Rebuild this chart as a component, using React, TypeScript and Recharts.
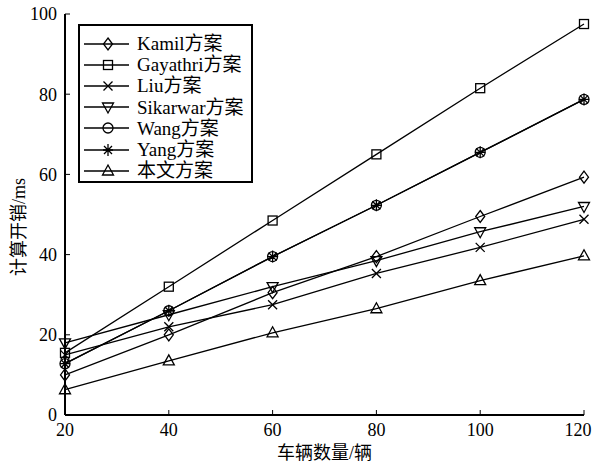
import React from "react";
import { Line, LineChart, XAxis, YAxis } from "recharts";

const vehicles = [20, 40, 60, 80, 100, 120];
const kamil = [10, 20, 30.5, 39.5, 49.5, 59.3];
const gayathri = [15.5, 32, 48.5, 65, 81.5, 97.5];
const liu = [15, 22, 27.5, 35.3, 41.8, 48.8];
const sikarwar = [18, 25, 32, 38.5, 45.7, 52];
const wang = [12.8, 26, 39.5, 52.3, 65.5, 78.7];
const yang = [12.8, 26, 39.5, 52.3, 65.5, 78.7];
const ours = [6.3, 13.5, 20.5, 26.5, 33.5, 39.7];

const xTicks = [20, 40, 60, 80, 100, 120];
const yTicks = [0, 20, 40, 60, 80, 100];

const FONT = "'Liberation Serif', 'Noto Sans CJK SC', serif";

type Shape = "diamond" | "square" | "x" | "tridown" | "circle" | "star" | "triup";

const series: { key: string; name: string; shape: Shape; values: number[] }[] = [
  { key: "kamil", name: "Kamil方案", shape: "diamond", values: kamil },
  { key: "gayathri", name: "Gayathri方案", shape: "square", values: gayathri },
  { key: "liu", name: "Liu方案", shape: "x", values: liu },
  { key: "sikarwar", name: "Sikarwar方案", shape: "tridown", values: sikarwar },
  { key: "wang", name: "Wang方案", shape: "circle", values: wang },
  { key: "yang", name: "Yang方案", shape: "star", values: yang },
  { key: "ours", name: "本文方案", shape: "triup", values: ours },
];

const data = vehicles.map((v, i) => {
  const row: Record<string, number> = { n: v };
  series.forEach((s) => {
    row[s.key] = s.values[i];
  });
  return row;
});

function Marker({ shape, cx, cy }: { shape: Shape; cx: number; cy: number }) {
  const p = { fill: "none", stroke: "#000", strokeWidth: 1.3 };
  switch (shape) {
    case "diamond":
      return <path d={`M${cx},${cy - 6}L${cx + 4.5},${cy}L${cx},${cy + 6}L${cx - 4.5},${cy}Z`} {...p} />;
    case "square":
      return <rect x={cx - 4.5} y={cy - 4.5} width={9} height={9} {...p} />;
    case "x":
      return <path d={`M${cx - 4.5},${cy - 4.5}L${cx + 4.5},${cy + 4.5}M${cx - 4.5},${cy + 4.5}L${cx + 4.5},${cy - 4.5}`} {...p} />;
    case "tridown":
      return <path d={`M${cx - 5.5},${cy - 4}L${cx + 5.5},${cy - 4}L${cx},${cy + 6}Z`} {...p} />;
    case "circle":
      return <circle cx={cx} cy={cy} r={5} {...p} />;
    case "star":
      return (
        <path
          d={`M${cx},${cy - 6}L${cx},${cy + 6}M${cx - 5},${cy}L${cx + 5},${cy}M${cx - 4},${cy - 4}L${cx + 4},${cy + 4}M${cx - 4},${cy + 4}L${cx + 4},${cy - 4}`}
          {...p}
        />
      );
    default:
      return <path d={`M${cx - 5.5},${cy + 4}L${cx + 5.5},${cy + 4}L${cx},${cy - 6}Z`} {...p} />;
  }
}

// last label would spill past the right edge, nudge it in a bit
function XTick({ x, y, payload }: { x?: number; y?: number; payload?: { value: number } }) {
  const v = payload?.value ?? 0;
  const shift = v === 120 ? -6 : 0;
  return (
    <text x={(x ?? 0) + shift} y={(y ?? 0) + 14} textAnchor="middle" fill="#000" fontSize={18} fontFamily={FONT}>
      {v}
    </text>
  );
}

function LegendBox() {
  return (
    <div
      style={{
        position: "absolute",
        left: 78,
        top: 24,
        border: "2px solid #000",
        background: "#fff",
        width: 175,
        height: 159,
        boxSizing: "border-box",
        paddingTop: 7,
        fontFamily: FONT,
      }}
    >
      {series.map((s) => (
        <div key={s.key} style={{ display: "flex", alignItems: "center", height: 21.2 }}>
          <svg width={57} height={16} style={{ flex: "none" }}>
            <line x1={4} x2={49} y1={8} y2={8} stroke="#000" strokeWidth={1.3} />
            <Marker shape={s.shape} cx={28} cy={8} />
          </svg>
          <span style={{ fontSize: 19, lineHeight: "21px", color: "#000", whiteSpace: "nowrap" }}>{s.name}</span>
        </div>
      ))}
    </div>
  );
}

export default function App() {
  return (
    <div style={{ position: "absolute", left: 0, top: 0, width: 594, height: 467, background: "#fff" }}>
      <LineChart width={594} height={467} data={data} margin={{ top: 14, right: 10, bottom: 0, left: 0 }}>
        <XAxis
          dataKey="n"
          type="number"
          domain={[20, 120]}
          ticks={xTicks}
          interval={0}
          height={52}
          tickSize={-5}
          tickMargin={12}
          axisLine={{ stroke: "#000", strokeWidth: 2 }}
          tickLine={{ stroke: "#000", strokeWidth: 1 }}
          tick={<XTick />}
          label={{
            value: "车辆数量/辆",
            position: "insideBottom",
            offset: 8,
            fill: "#000",
            fontSize: 18,
            fontFamily: FONT,
          }}
        />
        <XAxis
          xAxisId="top"
          dataKey="n"
          type="number"
          domain={[20, 120]}
          orientation="top"
          height={0}
          tick={false}
          tickLine={false}
          axisLine={{ stroke: "#000", strokeWidth: 2 }}
        />
        <YAxis
          type="number"
          domain={[0, 100]}
          ticks={yTicks}
          interval={0}
          width={65}
          tickSize={-5}
          tickMargin={13}
          axisLine={{ stroke: "#000", strokeWidth: 2 }}
          tickLine={{ stroke: "#000", strokeWidth: 1 }}
          tick={{ fill: "#000", fontSize: 18, fontFamily: FONT }}
          label={{
            content: () => (
              <text
                x={19}
                y={227}
                transform="rotate(-90 19 227)"
                textAnchor="middle"
                dominantBaseline="central"
                fill="#000"
                fontSize={18}
                fontFamily={FONT}
              >
                计算开销/ms
              </text>
            ),
          }}
        />
        <YAxis
          yAxisId="right"
          orientation="right"
          type="number"
          domain={[0, 100]}
          width={0}
          tick={false}
          tickLine={false}
          axisLine={{ stroke: "#000", strokeWidth: 2 }}
        />
        {series.map((s) => (
          <Line
            key={s.key}
            dataKey={s.key}
            name={s.name}
            type="linear"
            stroke="#000"
            strokeWidth={1.3}
            isAnimationActive={false}
            dot={(props: { cx?: number; cy?: number; index?: number }) => (
              <g key={`${s.key}-${props.index}`}>
                <Marker shape={s.shape} cx={props.cx ?? 0} cy={props.cy ?? 0} />
              </g>
            )}
          />
        ))}
      </LineChart>
      <LegendBox />
    </div>
  );
}
